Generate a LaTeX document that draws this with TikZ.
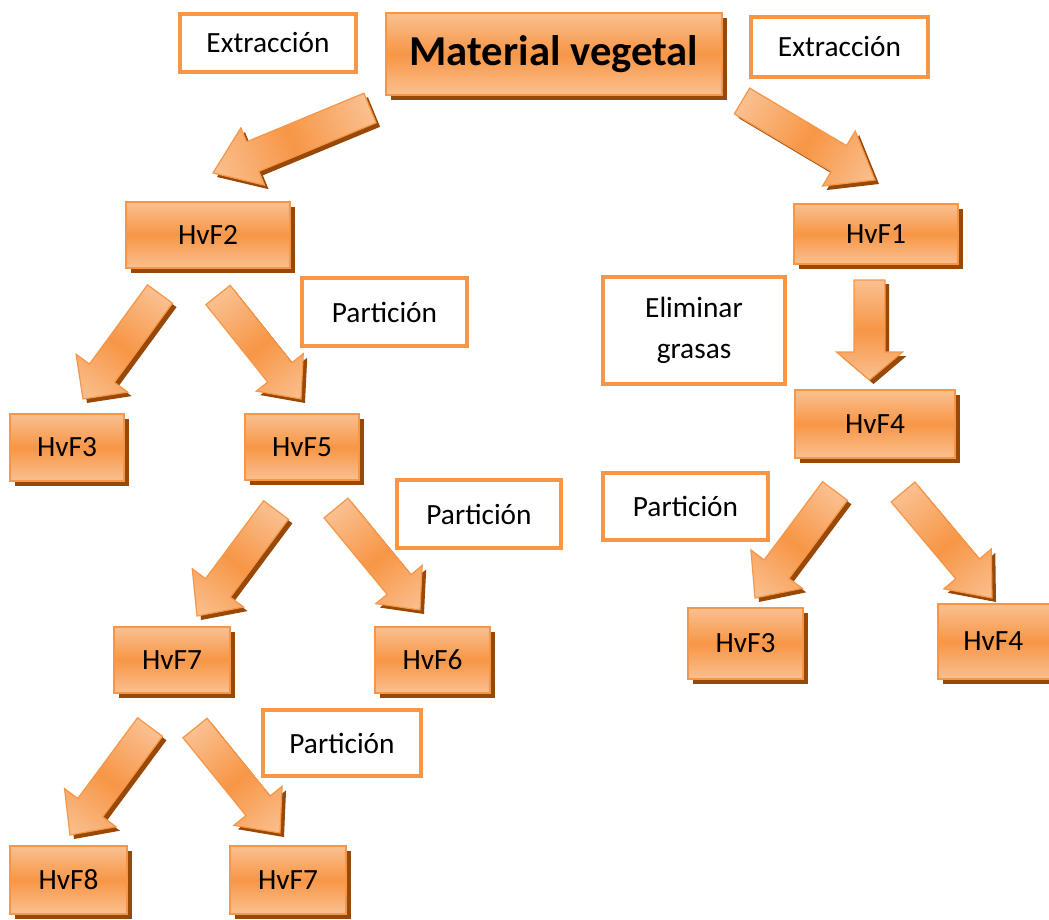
\documentclass[tikz,border=0pt]{standalone}
\usepackage{fontspec}
\setmainfont{Carlito}
\usetikzlibrary{shadows}
\definecolor{orlight}{HTML}{FAC090}
\definecolor{ormid}{HTML}{F79646}
\definecolor{orline}{HTML}{F79646}
\definecolor{shbrown}{HTML}{984807}
\tikzset{
  obox/.style={shade, top color=orlight, bottom color=orlight, middle color=ormid,
    draw=orline, line width=1pt, inner sep=0pt,
    drop shadow={shadow xshift=3.5pt, shadow yshift=-3.5pt, fill=shbrown, opacity=1},
    font=\fontsize{22}{26}\selectfont},
  wbox/.style={fill=white, draw=orline, line width=2.3pt, inner sep=0pt, align=center,
    font=\fontsize{22}{31}\selectfont},
  arrfill/.style={left color=orlight, right color=orlight, middle color=ormid, draw=orline, line width=0.9pt},
  arrshadow/.style={fill=shbrown}
}
\newcommand\mybox[7]{%
  \pgfmathsetmacro\bw{(#5-#3)*0.75}%
  \pgfmathsetmacro\bh{(#6-#4)*0.75}%
  \node[#1, minimum width=\bw pt, minimum height=\bh pt] (#2) at ({(#3+#5)/2},{(#4+#6)/2}) {#7};}
% tail x,y ; tip x,y ; head length ; shaft half width ; head half width
\newcommand\barrow[7]{%
  \pgfmathsetmacro\ang{atan2(-(#4-#2),#3-#1)}%
  \pgfmathsetmacro\len{veclen(#3-#1,#4-#2)}%
  \pgfmathsetmacro\hb{\len-#5}%
  \begin{scope}[transform canvas={shift={(#1+4,#2+4)},rotate=\ang}]
    \path[arrshadow] (0,-#6)--(\hb,-#6)--(\hb,-#7)--(\len,0)--(\hb,#7)--(\hb,#6)--(0,#6)--cycle;
  \end{scope}
  \begin{scope}[transform canvas={shift={(#1,#2)},rotate=\ang}]
    \path[arrfill] (0,-#6)--(\hb,-#6)--(\hb,-#7)--(\len,0)--(\hb,#7)--(\hb,#6)--(0,#6)--cycle;
  \end{scope}}
\begin{document}
\begin{tikzpicture}[x=0.75pt,y=-0.75pt]
\useasboundingbox[fill=white] (0,0) rectangle (1049,920);
% arrows
\barrow{370}{108}{213}{173}{43}{16}{31}
\barrow{742}{101}{875}{180}{42}{15}{32}
\barrow{869.5}{280}{869.5}{380}{28}{15.5}{33}
\barrow{160}{294}{83}{399}{32}{15.5}{32}
\barrow{218}{295}{301}{399}{34}{15.5}{30}
\barrow{276}{510}{197}{616}{35}{15.5}{32}
\barrow{336}{508}{420}{610}{33}{15.5}{30}
\barrow{835}{491}{755}{598}{36}{15.5}{32}
\barrow{903}{492}{992}{598}{38}{15.5}{31}
\barrow{150}{727}{70}{835}{34}{15.5}{32}
\barrow{195}{728}{280}{833}{35}{15.5}{31}
% orange boxes
\mybox{obox, font=\fontsize{32}{36}\selectfont\bfseries}{mv}{386}{13}{722}{95}{Material vegetal}
\mybox{obox}{f2}{126}{202}{290}{268}{HvF2}
\mybox{obox}{f1}{794}{204}{958}{264}{HvF1}
\mybox{obox}{f3l}{10}{414}{124}{481}{HvF3}
\mybox{obox}{f5}{245}{414}{359}{480}{HvF5}
\mybox{obox}{f4m}{795}{390}{955}{458}{HvF4}
\mybox{obox}{f7m}{114}{627}{230}{693}{HvF7}
\mybox{obox}{f6}{375}{627}{490}{693}{HvF6}
\mybox{obox}{f3r}{688}{608}{803}{679}{HvF3}
\mybox{obox}{f4r}{938}{604}{1058}{679}{\hspace*{-7pt}HvF4}
\mybox{obox}{f8}{10}{846}{127}{914}{HvF8}
\mybox{obox}{f7b}{230}{846}{346}{914}{HvF7}
% white boxes
\mybox{wbox}{exl}{180}{14}{356}{72}{Extracción}
\mybox{wbox}{exr}{751}{17}{928}{77}{Extracción}
\mybox{wbox}{p1}{302}{278}{467}{346}{Partición}
\mybox{wbox}{eg}{603}{277}{785}{384}{Eliminar\\grasas}
\mybox{wbox}{p2}{397}{480}{561}{548}{Partición}
\mybox{wbox}{p3}{603}{473}{768}{540}{Partición}
\mybox{wbox}{p4}{263}{710}{421}{776}{Partición}
\end{tikzpicture}
\end{document}
